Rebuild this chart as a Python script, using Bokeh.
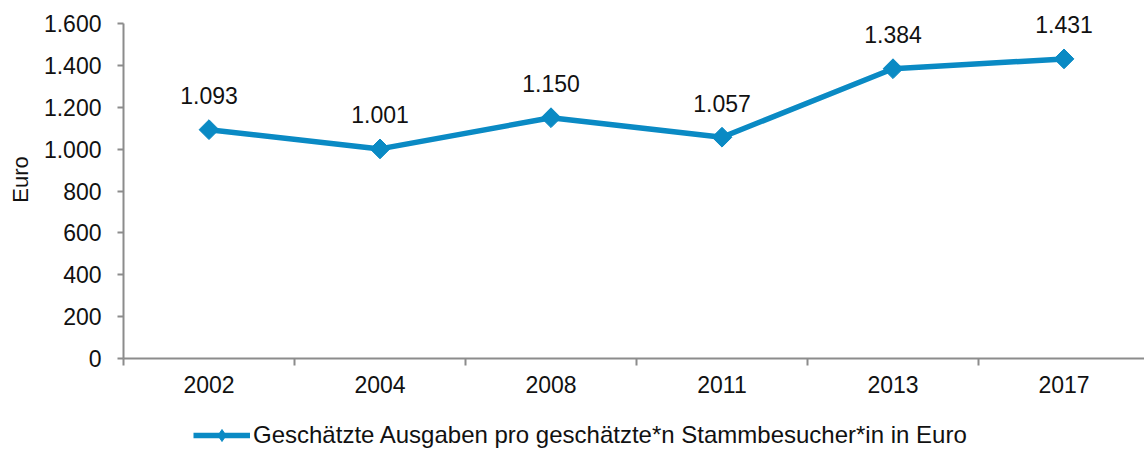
import math
from bokeh.plotting import figure
from bokeh.layouts import column
from bokeh.models import (ColumnDataSource, Range1d, FixedTicker, Legend, LegendItem, LabelSet)
from bokeh.core.properties import value
from bokeh.embed import file_html
from bokeh.resources import INLINE

# Data
years = ["2002", "2004", "2008", "2011", "2013", "2017"]
values = [1093, 1001, 1150, 1057, 1384, 1431]
y_ticks = [0, 200, 400, 600, 800, 1000, 1200, 1400, 1600]
series_name = "Geschätzte Ausgaben pro geschätzte*n Stammbesucher*in in Euro"

def de_format(v):
    return f"{v:,}".replace(",", ".")

xs = [i + 0.5 for i in range(len(years))]
src = ColumnDataSource(dict(x=xs, y=values, lbl=[de_format(v) for v in values]))

FONT = "Liberation Sans"
COLOR = "#0A8AC4"
AXIS = "#8C8C8C"
TXT = "#111111"
FS = "23px"

Y_MAX = y_ticks[-1]
Y_END = Y_MAX * 358 / 335  # headroom above the axis so top data label is not clipped

p = figure(width=1144, height=420, output_backend="svg", toolbar_location=None,
           x_range=Range1d(0, 6 - 5 / 171), y_range=Range1d(0, Y_END),
           min_border_left=123, min_border_top=0, min_border_right=0,
           min_border_bottom=62)
p.outline_line_color = None
p.grid.visible = False
p.background_fill_color = "white"

line_r = p.line("x", "y", source=src, line_color=COLOR, line_width=5.5)
pts_r = p.scatter("x", "y", source=src, marker="square", size=14, angle=math.pi / 4,
                  fill_color=COLOR, line_color=COLOR)
labels = LabelSet(x="x", y="y", text="lbl", source=src, text_align="center",
                  text_baseline="middle", y_offset=34, text_font_size=FS,
                  text_color=TXT, text_font=value(FONT))
p.add_layout(labels)

# X axis: labels at centers, ticks at category boundaries
xa = p.xaxis[0]
xa.ticker = FixedTicker(ticks=xs, minor_ticks=list(range(len(years) + 1)))
xa.major_label_overrides = {x: y for x, y in zip(xs, years)}
xa.major_tick_out = 0
xa.major_tick_in = 0
xa.minor_tick_out = 7
xa.minor_tick_in = 0
xa.minor_tick_line_color = AXIS
xa.minor_tick_line_width = 2
xa.axis_line_color = AXIS
xa.axis_line_width = 2
xa.major_label_text_font = FONT
xa.major_label_text_font_size = FS
xa.major_label_text_color = TXT
xa.major_label_standoff = 10

ya = p.yaxis[0]
ya.bounds = (0, Y_MAX)
ya.ticker = FixedTicker(ticks=y_ticks, minor_ticks=[])
ya.major_label_overrides = {v: de_format(v) for v in y_ticks}
ya.major_tick_out = 6
ya.major_tick_in = 0
ya.major_tick_line_color = AXIS
ya.major_tick_line_width = 2
ya.axis_line_color = AXIS
ya.axis_line_width = 2
ya.major_label_text_font = FONT
ya.major_label_text_font_size = FS
ya.major_label_text_color = TXT
ya.major_label_standoff = 16
ya.axis_label = "Euro"
ya.axis_label_text_font = FONT
ya.axis_label_text_font_size = "22px"
ya.axis_label_text_font_style = "normal"
ya.axis_label_text_color = TXT
ya.axis_label_standoff = 8

# Legend strip below the chart (its renderers sit outside the visible range)
lf = figure(width=1144, height=30, output_backend="svg", toolbar_location=None,
            x_range=Range1d(0, 1), y_range=Range1d(0, 1), min_border=0)
lf.axis.visible = False
lf.grid.visible = False
lf.outline_line_color = None
hidden = ColumnDataSource(dict(x=[5, 6], y=[5, 5]))
lg_line = lf.line("x", "y", source=hidden, line_color=COLOR, line_width=5.5)
lg_pts = lf.scatter("x", "y", source=hidden, marker="diamond", size=17,
                    fill_color=COLOR, line_color=COLOR)
legend = Legend(items=[LegendItem(label=series_name, renderers=[lg_line, lg_pts])],
                location=(70, 0), orientation="horizontal",
                label_text_font=FONT, label_text_font_size="24px",
                label_text_color=TXT, glyph_width=57, glyph_height=30,
                label_standoff=3, padding=0, margin=0, spacing=0,
                border_line_color=None, background_fill_alpha=0)
lf.add_layout(legend, "center")

layout = column(p, lf, spacing=0)
open("out.html", "w").write(file_html(layout, INLINE))
